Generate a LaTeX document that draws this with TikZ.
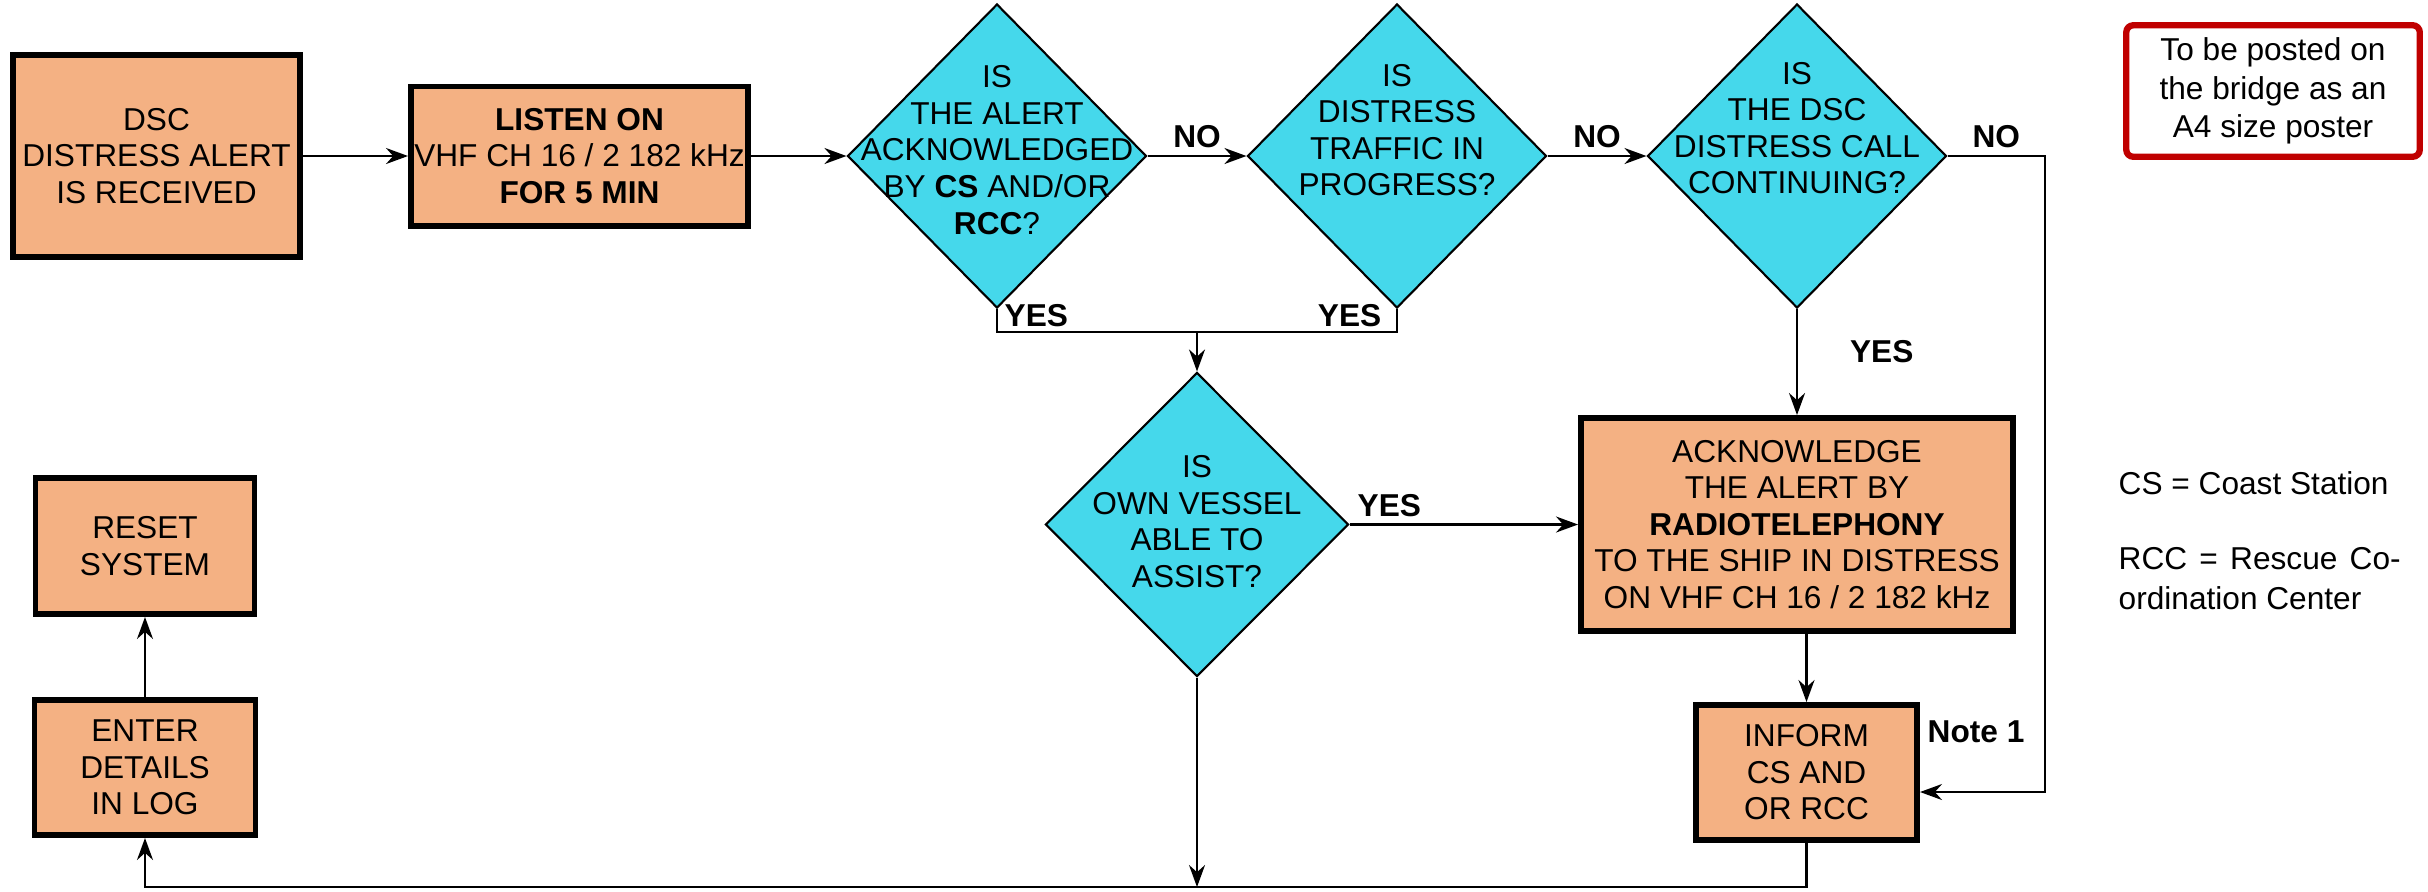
\documentclass[tikz,border=0pt]{standalone}
\usepackage{fontspec}
\setmainfont{Liberation Sans}
\usetikzlibrary{arrows.meta, positioning, shapes.geometric, calc}
\definecolor{boxorange}{HTML}{F4B183}
\definecolor{qcyan}{HTML}{45D8EB}
\definecolor{postred}{HTML}{C00000}

\begin{document}
\begin{tikzpicture}[
		font=\fontsize{9}{10.4}\selectfont,
		box/.style={draw, line width=1.7pt, fill=boxorange, align=center, inner sep=0pt},
		decision/.style={diamond, draw, line width=0.6pt, fill=qcyan, inner sep=0pt, minimum width=2.99cm, minimum height=3.04cm},
		qtext/.style={align=center, inner sep=0pt},
		lbl/.style={font=\fontsize{9}{10.4}\selectfont\bfseries, inner sep=2pt},
		link/.style={line width=0.6pt},
		arr/.style={link, -{Stealth[length=2.2mm, width=1.6mm]}},
		legend/.style={inner sep=0pt, font=\fontsize{9}{11.4}\selectfont}
	]
	\useasboundingbox (0,0) rectangle (24.28,-8.91);
	% top row
	\node[box, minimum width=2.87cm, minimum height=2.02cm] (dsc) at (1.565,-1.56) {DSC\\DISTRESS ALERT\\IS RECEIVED};
	\node[box, minimum width=3.37cm, minimum height=1.39cm] (listen) at (5.795,-1.56) {\textbf{LISTEN ON}\\VHF CH 16 / 2 182 kHz\\\textbf{FOR 5 MIN}};
	\node[decision] (q1) at (9.97,-1.56) {};
	\node[decision] (q2) at (13.97,-1.56) {};
	\node[decision] (q3) at (17.97,-1.56) {};
	\node[qtext] (q1t) at ([yshift=0.06cm]q1) {IS\\THE ALERT\\ACKNOWLEDGED\\BY \textbf{CS} AND/OR\\\textbf{RCC}?};
	\node[qtext] (q2t) at ([yshift=0.26cm]q2) {IS\\DISTRESS\\TRAFFIC IN\\PROGRESS?};
	\node[qtext] (q3t) at ([yshift=0.28cm]q3) {IS\\THE DSC\\DISTRESS CALL\\CONTINUING?};
	
	% middle and bottom
	\node[decision, minimum width=3.03cm] (q4) at (11.97,-5.245) {};
	\node[qtext] (q4t) at ([yshift=0.03cm]q4) {IS\\OWN VESSEL\\ABLE TO\\ASSIST?};
	\node[box, minimum width=4.32cm, minimum height=2.13cm] (ack) at (17.97,-5.245) {ACKNOWLEDGE\\THE ALERT BY\\\textbf{RADIOTELEPHONY}\\TO THE SHIP IN DISTRESS\\ON VHF CH 16 / 2 182 kHz};
	\node[box, minimum width=2.21cm, minimum height=1.35cm] (inform) at (18.065,-7.725) {INFORM\\CS AND\\OR RCC};
	\node[box, minimum width=2.19cm, minimum height=1.36cm] (reset) at (1.45,-5.46) {RESET\\SYSTEM};
	\node[box, minimum width=2.21cm, minimum height=1.35cm] (enter) at (1.45,-7.675) {ENTER\\DETAILS\\IN LOG};
	
	% legend
	\node[draw=postred, line width=1.8pt, rounded corners=2pt, minimum width=2.935cm, minimum height=1.315cm, align=center, font=\fontsize{9}{10.9}\selectfont] (poster) at (22.73,-0.91) {To be posted on\\the bridge as an\\A4 size poster};
	\node[legend, anchor=west] (cs) at (21.18,-4.83) {CS = Coast Station};
	\node[legend, anchor=north west, text width=2.82cm, align=justify] (rcc) at (21.18,-5.47) {RCC = Rescue Co-\linebreak ordination Center};
	
	% connectors
	\draw[arr] (dsc) -- (listen);
	\draw[arr] (listen) -- (q1);
	\draw[arr] (q1) -- node[lbl, above] (no1) {NO} (q2);
	\draw[arr] (q2) -- node[lbl, above] (no2) {NO} (q3);
	\coordinate (bend) at (20.45,-1.56);
	\draw[arr] (q3) -- node[lbl, above] (no3) {NO} (bend) |- ([yshift=-0.195cm]inform.east);
	
	\coordinate (join) at (11.97,-3.32);
	\draw[link] (q1.south) |- (join) -| (q2.south);
	\draw[arr] (join) -- (q4);
	\node[lbl, anchor=north west] (yes1) at ([yshift=0.12cm]q1.south) {YES};
	\node[lbl, anchor=north east] (yes2) at ([xshift=-0.08cm, yshift=0.12cm]q2.south) {YES};
	
	\draw[arr] (q3) -- node[lbl, right=0.45cm, pos=.4] (yes3) {YES} (ack);
	\draw[arr] (q4) -- node[lbl, above right, pos=0] (yes4) {YES} (ack);
	\draw[arr] (ack.south -| inform.north) -- (inform.north);
	\node[lbl, anchor=west] (note1) at ([yshift=-0.3cm]inform.north east) {Note 1};
	
	\coordinate (base) at (11.97,-8.87);
	\draw[arr] (q4) -- (base);
	\draw[arr] (inform.south) |- (enter.south |- base) -- (enter.south);
	\draw[arr] (enter) -- (reset);
\end{tikzpicture}
\end{document}
